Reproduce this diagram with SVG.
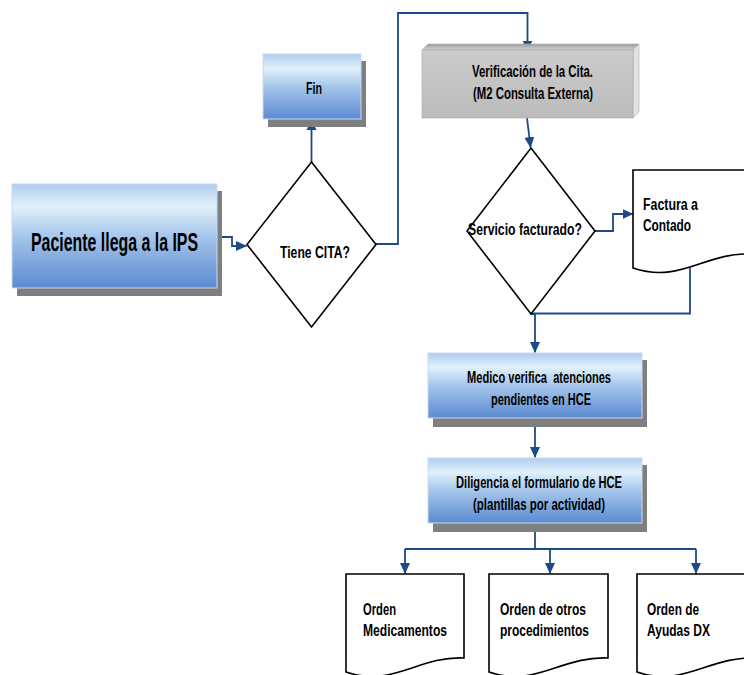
<svg xmlns="http://www.w3.org/2000/svg" width="744" height="675" viewBox="0 0 744 675">
<defs>
<linearGradient id="blue" x1="0" y1="0" x2="0" y2="1">
<stop offset="0" stop-color="#b0cdee"/>
<stop offset="0.22" stop-color="#e0f1fb"/>
<stop offset="0.5" stop-color="#a6c6eb"/>
<stop offset="1" stop-color="#5a8ad1"/>
</linearGradient>
<linearGradient id="grayTop" x1="0" y1="0" x2="0" y2="1">
<stop offset="0" stop-color="#9a9a9a"/>
<stop offset="1" stop-color="#d4d4d4"/>
</linearGradient>
<linearGradient id="grayFront" x1="0" y1="0" x2="0" y2="1">
<stop offset="0" stop-color="#cbcbcb"/>
<stop offset="1" stop-color="#bcbcbc"/>
</linearGradient>
<marker id="arr" markerWidth="12" markerHeight="12" refX="10.5" refY="5.5" orient="auto" markerUnits="userSpaceOnUse">
<path d="M0,0.5 L11,5.5 L0,10.5 Z" fill="#1c4a86"/>
</marker>
<style>
.box{fill:url(#blue);stroke:#c7daf0;stroke-width:1}
.shadow{fill:#7f7f7f}
.shape{fill:#ffffff;stroke:#000000;stroke-width:1.6}
.t{font-family:"Liberation Sans Narrow","Liberation Sans",Arial,sans-serif;font-weight:bold;font-size:16px;fill:#000000;white-space:pre}
.big{font-size:26px}
.conn{fill:none;stroke:#1c4a86;stroke-width:1.8}
</style>
</defs>

<g id="connectors">
<path class="conn" d="M217,237 H232 V246 H246.5" marker-end="url(#arr)"/>
<path class="conn" d="M311.5,162 V119.5" marker-end="url(#arr)"/>
<path class="conn" d="M376,244 H398 V13 H527.5 V51" marker-end="url(#arr)"/>
<path class="conn" d="M527,118 L530.6,147.5" marker-end="url(#arr)"/>
<path class="conn" d="M595,231 H613 V214 H633" marker-end="url(#arr)"/>
<path class="conn" d="M690,268 V313.5 H531"/>
<path class="conn" d="M531,314 H535 V352.5" marker-end="url(#arr)"/>
<path class="conn" d="M535,418 V457.5" marker-end="url(#arr)"/>
<path class="conn" d="M535,523 V549"/>
<path class="conn" d="M405,549 H696"/>
<path class="conn" d="M405,549 V573.5" marker-end="url(#arr)"/>
<path class="conn" d="M550,549 V573.5" marker-end="url(#arr)"/>
<path class="conn" d="M696,549 V573.5" marker-end="url(#arr)"/>
</g>

<g id="paciente">
<rect class="shadow" x="17" y="191" width="205" height="105"/>
<rect class="box" x="12" y="184" width="205" height="104"/>
<text class="t big" transform="translate(31,251) scale(0.612,1)" x="0" y="0" textLength="273" lengthAdjust="spacingAndGlyphs">Paciente llega a la IPS</text>
</g>

<g id="tiene-cita">
<path class="shape" d="M311.5,162 L376,244.5 L311.5,327 L247,244.5 Z"/>
<text class="t" x="280" y="258" textLength="70" lengthAdjust="spacingAndGlyphs">Tiene CITA?</text>
</g>

<g id="fin">
<rect class="shadow" x="268" y="61" width="98" height="66"/>
<rect class="box" x="263" y="54" width="98" height="65"/>
<text class="t" x="306" y="94" textLength="16" lengthAdjust="spacingAndGlyphs">Fin</text>
</g>

<g id="verificacion">
<polygon points="422,50 428,44 639,44 633,50" fill="url(#grayTop)" stroke="#b0b0b0" stroke-width="0.6"/>
<polygon points="633,50 639,44 639,112 633,118" fill="#e2e2e2" stroke="#b0b0b0" stroke-width="0.6"/>
<rect x="422" y="50" width="211" height="68" fill="url(#grayFront)" stroke="#a8a8a8" stroke-width="0.6"/>
<text class="t" x="472" y="77" textLength="121" lengthAdjust="spacingAndGlyphs">Verificación de la Cita.</text>
<text class="t" x="473" y="99" textLength="120" lengthAdjust="spacingAndGlyphs">(M2 Consulta Externa)</text>
</g>

<g id="servicio-facturado">
<path class="shape" d="M531,148 L595,231 L531,314 L467,231 Z"/>
<text class="t" x="468" y="235" textLength="114" lengthAdjust="spacingAndGlyphs">Servicio facturado?</text>
</g>

<g id="factura">
<path class="shape" d="M633,170 H752 V254 C704,252 681,284 633,268 Z"/>
<text class="t" x="643" y="210" textLength="55" lengthAdjust="spacingAndGlyphs">Factura a</text>
<text class="t" x="643" y="231" textLength="48" lengthAdjust="spacingAndGlyphs">Contado</text>
</g>

<g id="medico">
<rect class="shadow" x="433" y="360" width="214" height="67"/>
<rect class="box" x="428" y="353" width="214" height="65"/>
<text class="t" x="467" y="383" textLength="144" lengthAdjust="spacingAndGlyphs">Medico verifica  atenciones</text>
<text class="t" x="491" y="405" textLength="100" lengthAdjust="spacingAndGlyphs">pendientes en HCE</text>
</g>

<g id="diligencia">
<rect class="shadow" x="433" y="465" width="214" height="67"/>
<rect class="box" x="428" y="458" width="214" height="65"/>
<text class="t" x="456" y="488" textLength="166" lengthAdjust="spacingAndGlyphs">Diligencia el formulario de HCE</text>
<text class="t" x="473" y="510" textLength="132" lengthAdjust="spacingAndGlyphs">(plantillas por actividad)</text>
</g>

<g id="orden-medicamentos">
<path class="shape" d="M346,574 H464 V658 C417,656 393,688 346,672 Z"/>
<text class="t" x="363" y="615" textLength="33" lengthAdjust="spacingAndGlyphs">Orden</text>
<text class="t" x="363" y="636" textLength="84" lengthAdjust="spacingAndGlyphs">Medicamentos</text>
</g>

<g id="orden-procedimientos">
<path class="shape" d="M489,574 H608 V658 C560,656 536,688 489,672 Z"/>
<text class="t" x="500" y="615" textLength="86" lengthAdjust="spacingAndGlyphs">Orden de otros</text>
<text class="t" x="500" y="636" textLength="89" lengthAdjust="spacingAndGlyphs">procedimientos</text>
</g>

<g id="orden-ayudas">
<path class="shape" d="M637,574 H756 V658 C708,656 684,688 637,672 Z"/>
<text class="t" x="647" y="615" textLength="52" lengthAdjust="spacingAndGlyphs">Orden de</text>
<text class="t" x="647" y="636" textLength="63" lengthAdjust="spacingAndGlyphs">Ayudas DX</text>
</g>
</svg>
